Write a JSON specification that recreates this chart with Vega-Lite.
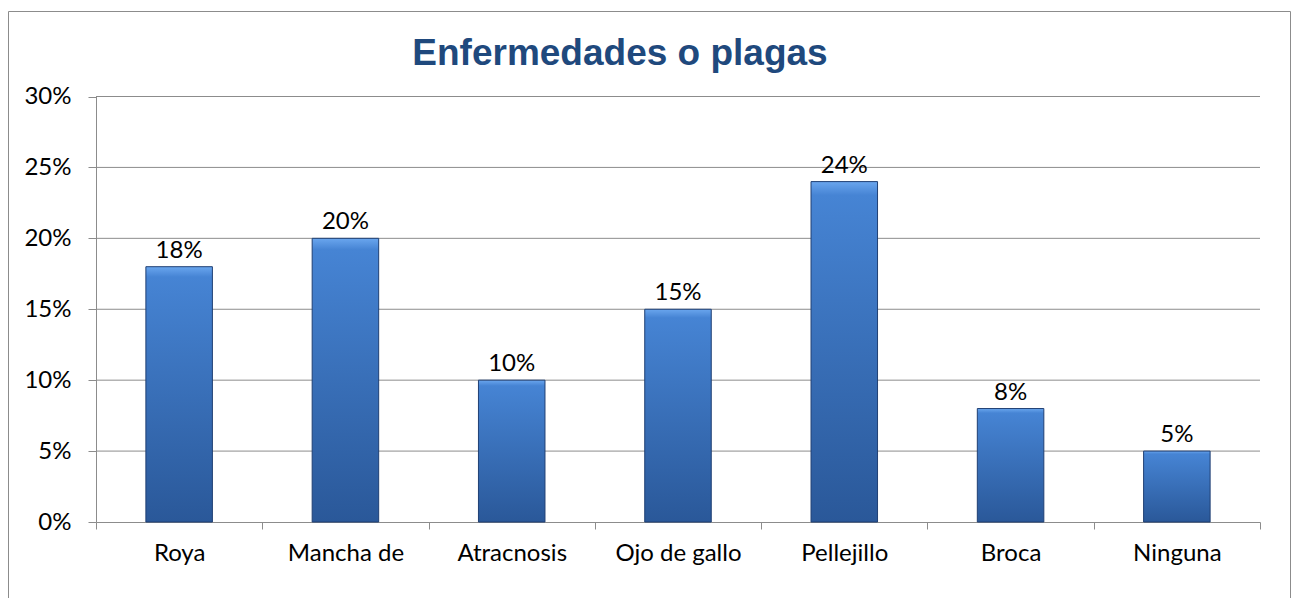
{
  "$schema": "https://vega.github.io/schema/vega-lite/v6.json",
  "width": 1282,
  "height": 590,
  "autosize": {"type": "none"},
  "padding": {"left": 8, "top": 11, "right": 3, "bottom": 0},
  "background": "white",
  "title": {
    "text": "Enfermedades o plagas",
    "font": "Liberation Sans",
    "fontSize": 37,
    "fontWeight": "bold",
    "color": "#1F497D",
    "anchor": "middle",
    "frame": "group",
    "offset": -91,
    "baseline": "alphabetic",
    "dx": -29
  },
  "config": {"view": {"stroke": "#8C8C8C", "strokeWidth": 1}},
  "layer": [
    {
      "data": {"values": [{"v": 0.05}, {"v": 0.10}, {"v": 0.15}, {"v": 0.20}, {"v": 0.25}, {"v": 0.30}]},
      "mark": {"type": "rule", "color": "#8C8C8C", "strokeWidth": 1},
      "encoding": {
        "y": {"field": "v", "type": "quantitative", "scale": {"domain": [0, 0.3], "range": [511, 85.5]}},
        "x": {"datum": 0, "type": "quantitative", "scale": {"domain": [0, 1], "range": [88, 1252]}, "axis": null},
        "x2": {"datum": 1}
      }
    },
    {
      "data": {
        "values": [
          {"cat": "Roya", "value": 0.18},
          {"cat": "Mancha de", "value": 0.20},
          {"cat": "Atracnosis", "value": 0.10},
          {"cat": "Ojo de gallo", "value": 0.15},
          {"cat": "Pellejillo", "value": 0.24},
          {"cat": "Broca", "value": 0.08},
          {"cat": "Ninguna", "value": 0.05}
        ]
      },
      "encoding": {
        "x": {
          "field": "cat",
          "type": "nominal",
          "sort": null,
          "scale": {"range": [88, 1252], "paddingInner": 0, "paddingOuter": 0},
          "axis": {
            "title": null,
            "offset": -79,
            "tickBand": "extent",
            "tickSize": 7,
            "tickColor": "#8C8C8C",
            "domainColor": "#8C8C8C",
            "labelFont": "Lato",
            "labelFontSize": 24,
            "labelColor": "black",
            "labelPadding": 12,
            "labelAngle": 0,
            "grid": false
          }
        },
        "y": {
          "field": "value",
          "type": "quantitative",
          "scale": {"domain": [0, 0.3], "range": [511, 85.5]},
          "axis": {
            "title": null,
            "format": ".0%",
            "values": [0, 0.05, 0.1, 0.15, 0.2, 0.25, 0.3],
            "offset": -88,
            "tickSize": 8,
            "tickColor": "#8C8C8C",
            "domainColor": "#8C8C8C",
            "labelFont": "Lato",
            "labelFontSize": 24,
            "labelColor": "black",
            "labelPadding": 17,
            "grid": false
          }
        }
      },
      "layer": [
        {
          "mark": {
            "type": "bar",
            "width": {"band": 0.4},
            "color": {
              "gradient": "linear",
              "x1": 0, "y1": 0, "x2": 0, "y2": 1,
              "stops": [
                {"offset": 0, "color": "#6AA6EE"},
                {"offset": 0.04, "color": "#4684D4"},
                {"offset": 1, "color": "#2A5899"}
              ]
            },
            "stroke": "#1F3F73",
            "strokeWidth": 1
          }
        },
        {
          "mark": {"type": "text", "font": "Lato", "fontSize": 24, "color": "black", "baseline": "alphabetic", "dy": -9},
          "encoding": {"text": {"field": "value", "type": "quantitative", "format": ".0%"}}
        }
      ]
    }
  ],
  "resolve": {"scale": {"x": "independent"}}
}
